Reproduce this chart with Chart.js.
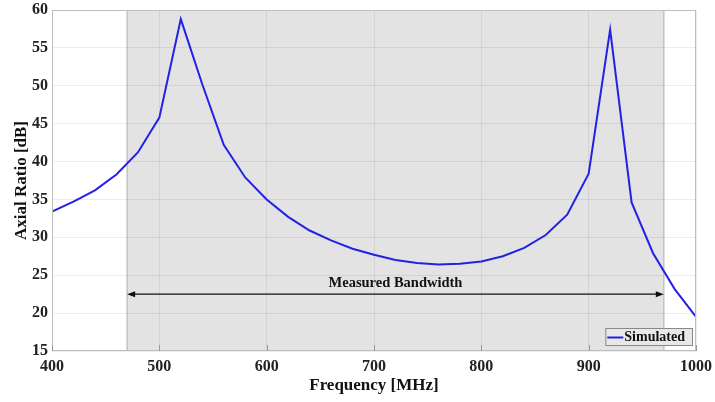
<!DOCTYPE html>
<html>
<head>
<meta charset="utf-8">
<script src="https://cdn.jsdelivr.net/npm/chart.js@4.4.0/dist/chart.umd.min.js"></script>
<style>
  body { margin: 0; background: #fff; }
  #wrap { width: 715px; height: 402px; }
</style>
</head>
<body>
<div id="wrap"><canvas id="myChart"></canvas></div>
<script>
// data (20 MHz steps)
var freqs = [400, 420, 440, 460, 480, 500, 520, 540, 560, 580, 600, 620, 640, 660, 680, 700,
  720, 740, 760, 780, 800, 820, 840, 860, 880, 900, 920, 940, 960, 980, 1000];
var axialRatio = [33.4, 34.7, 36.2, 38.3, 41.2, 45.8, 58.8, 50.2, 42.2, 37.9, 35.0, 32.7, 30.9, 29.6, 28.5, 27.7,
  27.0, 26.6, 26.4, 26.5, 26.8, 27.5, 28.6, 30.3, 33.0, 38.4, 57.4, 34.6, 27.9, 23.2, 19.5];
var seriesName = 'Simulated';
var bandStart = 470, bandEnd = 970;
var bandLabel = 'Measured Bandwidth';
var arrowLevel = 22.5;

var font = "'Liberation Serif', 'Times New Roman', serif";

var points = freqs.map(function (f, i) { return { x: f, y: axialRatio[i] }; });

// shaded band, arrow, box and legend
var bandPlugin = {
  id: 'band',
  beforeDraw: function (chart) {
    var c = chart.ctx, a = chart.chartArea, xs = chart.scales.x;
    var x1 = xs.getPixelForValue(bandStart), x2 = xs.getPixelForValue(bandEnd);
    c.save();
    c.fillStyle = '#e3e3e3';
    c.fillRect(x1, a.top, x2 - x1, a.bottom - a.top);
    c.strokeStyle = '#c4c4c4';
    c.lineWidth = 1.5;
    c.beginPath();
    c.moveTo(x1, a.top); c.lineTo(x1, a.bottom);
    c.moveTo(x2, a.top); c.lineTo(x2, a.bottom);
    c.stroke();
    c.restore();
  },
  afterDatasetsDraw: function (chart) {
    var c = chart.ctx, a = chart.chartArea, xs = chart.scales.x, ys = chart.scales.y;
    var x1 = xs.getPixelForValue(bandStart), x2 = xs.getPixelForValue(bandEnd);
    var y = ys.getPixelForValue(arrowLevel);
    c.save();
    // arrow
    c.strokeStyle = '#111';
    c.fillStyle = '#111';
    c.lineWidth = 1.3;
    c.beginPath();
    c.moveTo(x1 + 3, y); c.lineTo(x2 - 3, y);
    c.stroke();
    c.beginPath();
    c.moveTo(x1, y); c.lineTo(x1 + 8, y - 3); c.lineTo(x1 + 8, y + 3); c.closePath(); c.fill();
    c.beginPath();
    c.moveTo(x2, y); c.lineTo(x2 - 8, y - 3); c.lineTo(x2 - 8, y + 3); c.closePath(); c.fill();
    // label
    c.font = 'bold 14.5px ' + font;
    c.textAlign = 'center';
    c.textBaseline = 'alphabetic';
    c.fillText(bandLabel, (x1 + x2) / 2, y - 7);
    // plot box
    c.strokeStyle = '#bdbdbd';
    c.lineWidth = 1;
    c.strokeRect(a.left + 0.5, a.top + 0.5, a.right - a.left - 1, a.bottom - a.top - 1);
    // small inward ticks on the bottom axis
    c.strokeStyle = '#999';
    c.beginPath();
    xs.ticks.forEach(function (t) {
      var px = Math.round(xs.getPixelForValue(t.value)) + 0.5;
      c.moveTo(px, a.bottom); c.lineTo(px, a.bottom - 6);
    });
    c.stroke();
    // legend box (bottom right, inside the plot)
    c.font = 'bold 14px ' + font;
    var tw = c.measureText(seriesName).width;
    var bw = tw + 26, bh = 17;
    var bx = a.right - bw - 4, by = a.bottom - bh - 6;
    c.fillStyle = '#e8e8e8';
    c.fillRect(bx, by, bw, bh);
    c.strokeStyle = '#888';
    c.lineWidth = 1;
    c.strokeRect(bx + 0.5, by + 0.5, bw, bh);
    c.strokeStyle = '#2222e6';
    c.lineWidth = 2;
    c.beginPath();
    c.moveTo(bx + 2, by + bh / 2 + 1); c.lineTo(bx + 18, by + bh / 2 + 1);
    c.stroke();
    c.fillStyle = '#111';
    c.textAlign = 'left';
    c.textBaseline = 'middle';
    c.fillText(seriesName, bx + 19, by + bh / 2 + 1);
    c.restore();
  }
};

var ctx = document.getElementById('myChart').getContext('2d');
var myChart = new Chart(ctx, {
  type: 'scatter',
  data: {
    datasets: [{
      label: seriesName,
      data: points,
      showLine: true,
      borderColor: '#2222e6',
      backgroundColor: '#2222e6',
      borderWidth: 2,
      pointRadius: 0,
      tension: 0
    }]
  },
  options: {
    responsive: true,
    maintainAspectRatio: false,
    animation: false,
    layout: { padding: { left: 0, right: 19, top: 10, bottom: 6 } },
    plugins: {
      legend: { display: false },
      tooltip: { enabled: false }
    },
    scales: {
      x: {
        type: 'linear',
        min: 400, max: 1000,
        ticks: {
          stepSize: 100, color: '#222', font: { family: font, size: 16, weight: 'bold' }, padding: 6,
          callback: function (v) { return String(v); }
        },
        grid: { color: 'rgba(0,0,0,0.07)', drawTicks: false },
        border: { display: false },
        title: { display: true, text: 'Frequency [MHz]', color: '#111', font: { family: font, size: 17, weight: 'bold' }, padding: { top: 0, bottom: 0 } },
        afterFit: function (scale) {
          scale.height = 45;
          scale.paddingLeft = 0;
          scale.paddingRight = 0;
        }
      },
      y: {
        min: 15, max: 60,
        ticks: { stepSize: 5, color: '#222', font: { family: font, size: 16, weight: 'bold' }, padding: 4 },
        grid: { color: 'rgba(0,0,0,0.07)', drawTicks: false },
        border: { display: false },
        title: { display: true, text: 'Axial Ratio [dB]', color: '#111', font: { family: font, size: 17, weight: 'bold' }, padding: { top: 11, bottom: 0 } },
        afterFit: function (scale) {
          scale.width = 52;
          scale.paddingTop = 0;
          scale.paddingBottom = 0;
        }
      }
    }
  },
  plugins: [bandPlugin]
});
</script>
</body>
</html>
